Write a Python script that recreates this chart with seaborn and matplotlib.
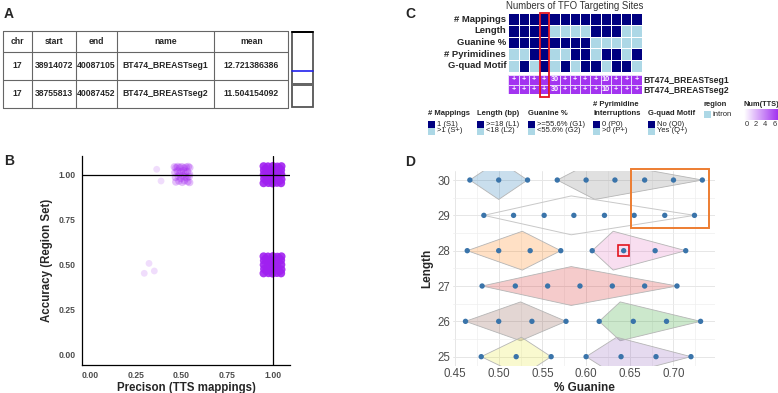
import numpy as np
import pandas as pd
import matplotlib
matplotlib.use("Agg")
import matplotlib.pyplot as plt
import seaborn as sns
from matplotlib.patches import Rectangle, Polygon
from matplotlib.colors import ListedColormap, LinearSegmentedColormap
import matplotlib.transforms as mtransforms

# ---------------- Panel A data ----------------
table_header = ["chr", "start", "end", "name", "mean"]
table_chr = ["17", "17"]
table_start = ["38914072", "38755813"]
table_end = ["40087105", "40087452"]
table_name = ["BT474_BREASTseg1", "BT474_BREASTseg2"]
table_mean = ["12.721386386", "11.504154092"]

# ---------------- Panel B data (jittered points) ----------------
b_full_x = [0.950, 0.974, 1.001, 1.026, 1.048, 0.952, 0.976, 0.998, 1.024, 1.046,
            0.951, 0.975, 1.000, 1.025, 1.047, 0.953, 0.973, 1.002, 1.027, 1.048,
            0.950, 0.977, 0.999, 1.023, 1.046, 0.962, 0.988, 1.012, 1.036, 0.965, 1.035]
b_full_y = [1.047, 1.046, 1.048, 1.045, 1.047, 1.024, 1.022, 1.025, 1.023, 1.026,
            1.000, 0.999, 1.002, 0.998, 1.001, 0.977, 0.975, 0.978, 0.976, 0.974,
            0.953, 0.954, 0.952, 0.955, 0.953, 1.035, 1.012, 0.988, 0.965, 0.966, 1.036]
b_half_x = [0.950, 0.974, 1.001, 1.026, 1.048, 0.952, 0.976, 0.998, 1.024, 1.046,
            0.951, 0.975, 1.000, 1.025, 1.047, 0.953, 0.973, 1.002, 1.027, 1.048,
            0.950, 0.977, 0.999, 1.023, 1.046, 0.962, 0.988, 1.012, 1.036, 0.965, 1.035]
b_half_y = [0.547, 0.546, 0.548, 0.545, 0.547, 0.524, 0.522, 0.525, 0.523, 0.526,
            0.500, 0.499, 0.502, 0.498, 0.501, 0.477, 0.475, 0.478, 0.476, 0.474,
            0.453, 0.454, 0.452, 0.455, 0.453, 0.535, 0.512, 0.488, 0.465, 0.466, 0.536]
b_mid_x = [0.462, 0.471, 0.480, 0.492, 0.503, 0.515, 0.526, 0.538, 0.546, 0.465,
           0.478, 0.489, 0.499, 0.511, 0.522, 0.533, 0.544, 0.468, 0.484, 0.497,
           0.508, 0.520, 0.531, 0.543, 0.470, 0.487, 0.505, 0.517, 0.535, 0.545]
b_mid_y = [1.043, 1.038, 1.045, 1.040, 1.044, 1.037, 1.042, 1.045, 1.039, 1.012,
           1.020, 1.005, 1.015, 1.022, 1.008, 1.018, 1.003, 0.985, 0.992, 0.980,
           0.995, 0.988, 0.983, 0.990, 0.960, 0.965, 0.958, 0.967, 0.962, 0.957]
b_low_x = [0.365, 0.389, 0.323, 0.297, 0.352]
b_low_y = [1.030, 0.965, 0.508, 0.453, 0.466]

# ---------------- Panel C data ----------------
c_rows = ["# Mappings", "Length", "Guanine %", "# Pyrimidines", "G-quad Motif"]
# 1 = first level (dark), 0 = second level (light)
c_mappings = [1, 1, 1, 1, 1, 1, 1, 1, 1, 1, 1, 1, 1]
c_length = [1, 1, 1, 1, 0, 0, 0, 0, 1, 1, 1, 0, 0]
c_guanine = [1, 1, 1, 1, 1, 1, 1, 1, 0, 0, 0, 0, 0]
c_pyrimid = [0, 0, 1, 1, 0, 0, 1, 1, 0, 1, 1, 0, 1]
c_gquad = [0, 1, 0, 1, 0, 1, 0, 1, 1, 0, 1, 1, 0]
c_samples = ["BT474_BREASTseg1", "BT474_BREASTseg2"]
c_tts_labels = ["+", "+", "+", "+", "30", "+", "+", "+", "+", "10", "+", "+", "+"]
c_tts_values = [6, 6, 6, 6, 30, 6, 6, 6, 6, 10, 6, 6, 6]
c_highlight_col = 3
c_legend_titles = ["# Mappings", "Length (bp)", "Guanine %", "# Pyrimidine\nInterruptions", "G-quad Motif"]
c_legend_dark = ["1 (S1)", ">=18 (L1)", ">=55.6% (G1)", "0 (P0)", "No (Q0)"]
c_legend_light = [">1 (S+)", "<18 (L2)", "<55.6% (G2)", ">0 (P+)", "Yes (Q+)"]
c_num_ticks = [0, 2, 4, 6]

# ---------------- Panel D data ----------------
d_len30 = [0.467, 0.500, 0.533, 0.567, 0.600, 0.633, 0.667, 0.700, 0.733]
d_len29 = [0.483, 0.517, 0.552, 0.586, 0.621, 0.655, 0.690, 0.724]
d_len28 = [0.464, 0.500, 0.536, 0.571, 0.607, 0.643, 0.679, 0.714]
d_len27 = [0.481, 0.519, 0.556, 0.593, 0.630, 0.667, 0.704]
d_len26 = [0.462, 0.500, 0.538, 0.577, 0.615, 0.654, 0.692, 0.731]
d_len25 = [0.480, 0.520, 0.560, 0.600, 0.640, 0.680, 0.720]
d_lengths = [30, 29, 28, 27, 26, 25]
# cluster diamonds: length, left, middle, right
d_cl_len = [30, 30, 29, 28, 28, 27, 26, 26, 25, 25]
d_cl_left = [0.467, 0.567, 0.483, 0.464, 0.607, 0.481, 0.462, 0.615, 0.480, 0.600]
d_cl_mid = [0.500, 0.610, 0.583, 0.527, 0.631, 0.583, 0.525, 0.639, 0.526, 0.635]
d_cl_right = [0.533, 0.733, 0.724, 0.571, 0.714, 0.704, 0.577, 0.731, 0.560, 0.720]
d_cl_colors = ["#1f77b4", "#7f7f7f", "#ffffff", "#ff7f0e", "#e377c2",
               "#d62728", "#8c564b", "#2ca02c", "#e8e83a", "#9467bd"]
d_sel_box = (0.651, 0.741, 28.63, 30.31)
d_sel_point = (0.643, 28)

# ---------------- figure ----------------
sns.set_style("white")
plt.rcParams["font.family"] = ["Liberation Sans", "DejaVu Sans"]
W, H = 778, 393
fig = plt.figure(figsize=(W / 100, H / 100), dpi=100)


def px_axes(x0, y0, x1, y1):
    return fig.add_axes([x0 / W, 1 - y1 / H, (x1 - x0) / W, (y1 - y0) / H])


ov = fig.add_axes([0, 0, 1, 1], zorder=10)
ov.set_xlim(0, W)
ov.set_ylim(H, 0)
ov.axis("off")

# panel letters
for lab, (lx, ly) in zip("ABCD", [(4, 14), (4, 161), (405, 14), (405, 161.5)]):
    ov.text(lx, ly, lab, fontsize=10, fontweight="bold", ha="left", va="center")

# ---------------- Panel A ----------------
col_x = [3.3, 31.7, 76, 116.7, 214.3, 288.3]
row_y = [31, 51.7, 80, 108]
for x in col_x:
    ov.plot([x, x], [row_y[0], row_y[-1]], color="#666666", lw=0.8)
for y in row_y:
    ov.plot([col_x[0], col_x[-1]], [y, y], color="#666666", lw=0.8)
centers = [(col_x[i] + col_x[i + 1]) / 2 for i in range(5)]
for i, h in enumerate(table_header):
    ov.text(centers[i], (row_y[0] + row_y[1]) / 2, h, ha="center", va="center", fontsize=6.2, fontweight="bold")
rows = list(zip(table_chr, table_start, table_end, table_name, table_mean))
for r, vals in enumerate(rows):
    yc = (row_y[r + 1] + row_y[r + 2]) / 2
    for i, v in enumerate(vals):
        ov.text(centers[i], yc, v, ha="center", va="center", fontsize=6.2, fontweight="bold")
# chromosome ideogram
ov.add_patch(Rectangle((292.3, 32.3), 21, 74.7, fill=False, edgecolor="#555555", lw=1.3))
ov.plot([292.3, 313.3], [32.3, 32.3], color="black", lw=1.4)
ov.add_patch(Rectangle((292.3, 83.3), 21, 2.7, color="#666666", lw=0))
ov.plot([292.3, 313.3], [71, 71], color="#2020ee", lw=1.2)

# ---------------- Panel B ----------------
PURPLE = "#A020F0"
axB = px_axes(82, 156, 290, 365)
sns.scatterplot(x=b_low_x, y=b_low_y, ax=axB, color=PURPLE, alpha=0.15, s=24, edgecolor="none", legend=False)
sns.scatterplot(x=b_mid_x, y=b_mid_y, ax=axB, color=PURPLE, alpha=0.28, s=30, edgecolor="none", legend=False)
sns.scatterplot(x=b_full_x, y=b_full_y, ax=axB, color=PURPLE, alpha=0.9, s=34, edgecolor="none", legend=False)
sns.scatterplot(x=b_half_x, y=b_half_y, ax=axB, color=PURPLE, alpha=0.9, s=34, edgecolor="none", legend=False)
axB.axhline(1, color="black", lw=0.9, zorder=5)
axB.axvline(1, color="black", lw=0.9, zorder=5)
axB.set_xlim(-0.0438, 1.0947)
axB.set_ylim(-0.0555, 1.1037)
ticks = [0, 0.25, 0.5, 0.75, 1.0]
axB.set_xticks(ticks)
axB.set_yticks(ticks)
axB.set_xticklabels([f"{t:.2f}" for t in ticks])
axB.set_yticklabels([f"{t:.2f}" for t in ticks])
for s in ["top", "right"]:
    axB.spines[s].set_visible(False)
for s in ["left", "bottom"]:
    axB.spines[s].set_color("black")
    axB.spines[s].set_linewidth(0.9)
axB.tick_params(labelsize=6.2, labelcolor="#4d4d4d", length=2.5, width=0.8, color="#333333", pad=2)
for lbl in axB.get_xticklabels() + axB.get_yticklabels():
    lbl.set_fontweight("bold")
axB.set_xlabel("Precison (TTS mappings)", fontsize=8.3, fontweight="bold", labelpad=1)
axB.set_ylabel("Accuracy (Region Set)", fontsize=8.3, fontweight="bold", labelpad=4)

# ---------------- Panel C ----------------
mat = np.array([c_mappings, c_length, c_guanine, c_pyrimid, c_gquad])
axC = px_axes(508.3, 13.3, 641.7, 71.7)
sns.heatmap(mat, ax=axC, cmap=ListedColormap(["#ADD8E6", "#000080"]), vmin=0, vmax=1, cbar=False,
            linewidths=0.6, linecolor="white", xticklabels=False, yticklabels=c_rows)
axC.tick_params(length=0, pad=1.5, labelsize=6.8)
for lbl in axC.get_yticklabels():
    lbl.set_fontweight("bold")
    lbl.set_rotation(0)
axC.set_title("Numbers of TFO Targeting Sites", fontsize=6.9, color="#333333", pad=3)

tts = np.array([c_tts_values, c_tts_values])
tts_lab = np.array([c_tts_labels, c_tts_labels])
axP = px_axes(508.3, 75, 641.7, 94.3)
purple_cmap = LinearSegmentedColormap.from_list("tts", ["#ffffff", "#A334F0"])
sns.heatmap(np.clip(tts, 0, 6), ax=axP, cmap=purple_cmap, vmin=0, vmax=6, cbar=False,
            annot=tts_lab, fmt="", annot_kws={"color": "white", "size": 5.2, "weight": "bold"},
            linewidths=0.6, linecolor="#e9d7fb", xticklabels=False, yticklabels=c_samples)
axP.yaxis.tick_right()
axP.tick_params(length=0, pad=1.5, labelsize=6.2)
for lbl in axP.get_yticklabels():
    lbl.set_fontweight("bold")
    lbl.set_rotation(0)

# highlight column
trans = mtransforms.blended_transform_factory(axC.transData, ov.transData)
ov.add_patch(Rectangle((c_highlight_col + 0.05, 12.7), 0.95, 84, transform=trans,
                       fill=False, edgecolor="#e3141e", lw=1.3, zorder=20))

# legend of panel C
leg_x = [428, 477, 528, 593.5, 648.5]
for i in range(5):
    x = leg_x[i]
    title = c_legend_titles[i]
    if "\n" in title:
        t1, t2 = title.split("\n")
        ov.text(x, 104.5, t1, fontsize=5.5, fontweight="bold", va="center", ha="left")
        ov.text(x, 113.5, t2, fontsize=5.5, fontweight="bold", va="center", ha="left")
    else:
        ov.text(x, 113.5, title, fontsize=5.5, fontweight="bold", va="center", ha="left")
    ov.add_patch(Rectangle((x, 120.5), 7, 7, color="#000080", lw=0))
    ov.add_patch(Rectangle((x, 127.5), 7, 7, color="#ADD8E6", lw=0))
    ov.text(x + 9, 124, c_legend_dark[i], fontsize=5.5, va="center", ha="left", color="#222222")
    ov.text(x + 9, 131, c_legend_light[i], fontsize=5.5, va="center", ha="left", color="#222222")
ov.text(704, 104.5, "region", fontsize=5.5, fontweight="bold", va="center", ha="left")
ov.add_patch(Rectangle((704, 110.5), 7, 7, color="#ADD8E6", lw=0))
ov.text(713, 114, "intron", fontsize=5.5, va="center", ha="left", color="#222222")
ov.text(743.5, 104.5, "Num(TTS)", fontsize=5.3, fontweight="bold", va="center", ha="left")
grad = np.linspace(0, 1, 100).reshape(1, -1)
ov.imshow(grad, cmap=purple_cmap, extent=(744, 778, 120.5, 110), aspect="auto", zorder=5)
for t in c_num_ticks:
    ov.text(747 + t * 4.6, 124.5, str(t), fontsize=5.4, ha="center", va="center", color="#333333")
ov.set_xlim(0, W)
ov.set_ylim(H, 0)

# ---------------- Panel D ----------------
axD = px_axes(453, 171.2, 715, 365.5)
for L, lft, mid, rgt, col in zip(d_cl_len, d_cl_left, d_cl_mid, d_cl_right, d_cl_colors):
    verts = [(lft, L), (mid, L + 0.55), (rgt, L), (mid, L - 0.55)]
    if col == "#ffffff":
        axD.add_patch(Polygon(verts, closed=True, facecolor="none", edgecolor="#c8c8c8", lw=0.7, zorder=2))
    else:
        axD.add_patch(Polygon(verts, closed=True, facecolor=col, alpha=0.24, edgecolor="none", zorder=2))
        axD.add_patch(Polygon(verts, closed=True, facecolor="none", edgecolor="#b5b5b5", lw=0.6, zorder=2))
pts = []
for L, vals in zip(d_lengths, [d_len30, d_len29, d_len28, d_len27, d_len26, d_len25]):
    for v in vals:
        pts.append((v, L))
dfD = pd.DataFrame(pts, columns=["guanine", "length"])
sns.scatterplot(data=dfD, x="guanine", y="length", ax=axD, color="#3a74aa", s=15, edgecolor="none",
                legend=False, zorder=4)
axD.add_patch(Rectangle((d_sel_box[0], d_sel_box[2]), d_sel_box[1] - d_sel_box[0], d_sel_box[3] - d_sel_box[2],
                        fill=False, edgecolor="#ED7D31", lw=1.4, zorder=5, clip_on=False))
axD.add_patch(Rectangle((d_sel_point[0] - 0.0065, d_sel_point[1] - 0.16), 0.013, 0.32,
                        fill=False, edgecolor="#e3141e", lw=1.2, zorder=5))
axD.set_xlim(0.4477, 0.7475)
axD.set_ylim(24.75, 30.25)
axD.set_xticks([0.45, 0.50, 0.55, 0.60, 0.65, 0.70])
axD.set_xticklabels(["0.45", "0.50", "0.55", "0.60", "0.65", "0.70"])
axD.set_xticks([0.475, 0.525, 0.575, 0.625, 0.675, 0.725], minor=True)
axD.set_yticks([25, 26, 27, 28, 29, 30])
axD.set_yticks([25.5, 26.5, 27.5, 28.5, 29.5], minor=True)
axD.grid(True, which="major", color="#e6e6e6", lw=0.7)
axD.grid(True, which="minor", color="#eeeeee", lw=0.5)
axD.set_axisbelow(True)
for s in axD.spines.values():
    s.set_visible(False)
axD.tick_params(which="both", length=0, labelsize=8.3, labelcolor="#4d4d4d", pad=2)
axD.set_xlabel("% Guanine", fontsize=8.5, fontweight="bold", labelpad=1)
axD.set_ylabel("Length", fontsize=8.5, fontweight="bold", labelpad=3)

fig.savefig("out.png", dpi=100)
